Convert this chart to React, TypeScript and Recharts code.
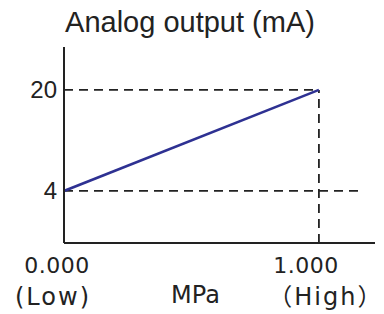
import { Line, LineChart, ReferenceLine, XAxis, YAxis } from 'recharts';

// pressure (MPa) vs analog output (mA)
const pressure = [0, 1];
const current = [4, 20];
const yTicks = [4, 20];
const xTickValues = ['0.000', '1.000'];
const xTickNotes = ['(Low)', '（High）'];

const data = pressure.map((p, i) => ({ p, mA: current[i] }));

const Y_MIN = -4.24;
const Y_MAX = 26.8;
const X_MAX = 1.22;

const ink = '#222';
const dash = '9 6';
const xFont = '"DejaVu Sans", "Noto Sans CJK SC", sans-serif';

function PressureTick(props: any) {
  const { x, y, payload, index } = props;
  const i = pressure.indexOf(payload.value);
  const k = i < 0 ? index : i;
  // labels sit a little off the tick in the source drawing
  const valueShift = k === 0 ? -7 : -13;
  const noteShift = k === 0 ? -11 : 7;
  return (
    <g>
      <text x={x + valueShift} y={y + 22} textAnchor="middle" fill={ink} fontSize={22} fontFamily={xFont} letterSpacing={0.5}>
        {xTickValues[k]}
      </text>
      <text x={x + noteShift} y={y + 54} textAnchor="middle" fill={ink} fontSize={24} fontFamily={xFont} letterSpacing={2}>
        {xTickNotes[k]}
      </text>
    </g>
  );
}

export default function App() {
  return (
    <div style={{ position: 'absolute', left: 0, top: 0, background: '#fff' }}>
      <LineChart width={384} height={314} data={data} margin={{ top: 47, right: 9, left: 0, bottom: 0 }}>
        <text x={190} y={32} textAnchor="middle" fill={ink} fontSize={29} fontFamily='"Liberation Sans", Arial, sans-serif'>
          Analog output (mA)
        </text>
        <XAxis
          dataKey="p"
          type="number"
          domain={[0, X_MAX]}
          ticks={pressure}
          height={71}
          tickLine={false}
          axisLine={{ stroke: ink, strokeWidth: 2 }}
          tick={<PressureTick />}
          interval={0}
          allowDataOverflow
          label={{ value: 'MPa', position: 'insideBottom', offset: 10, dx: -24, dy: -1, fill: ink, fontSize: 24, fontFamily: xFont }}
        />
        <YAxis
          type="number"
          domain={[Y_MIN, Y_MAX]}
          ticks={yTicks}
          width={64}
          tickLine={false}
          tickSize={5}
          tickMargin={2}
          axisLine={{ stroke: ink, strokeWidth: 2 }}
          allowDataOverflow
          tick={{ fill: ink, fontSize: 24, fontFamily: '"Liberation Sans", Arial, sans-serif' }}
        />
        <ReferenceLine segment={[{ x: 0, y: 20 }, { x: 1, y: 20 }]} stroke={ink} strokeWidth={1.8} strokeDasharray={dash} />
        <ReferenceLine segment={[{ x: 1, y: Y_MIN }, { x: 1, y: 20 }]} stroke={ink} strokeWidth={1.8} strokeDasharray={dash} />
        <ReferenceLine segment={[{ x: 0, y: 4 }, { x: 1.155, y: 4 }]} stroke={ink} strokeWidth={1.8} strokeDasharray={dash} />
        <Line
          dataKey="mA"
          type="linear"
          stroke="#2e3192"
          strokeWidth={2.5}
          dot={false}
          activeDot={false}
          isAnimationActive={false}
        />
      </LineChart>
    </div>
  );
}
